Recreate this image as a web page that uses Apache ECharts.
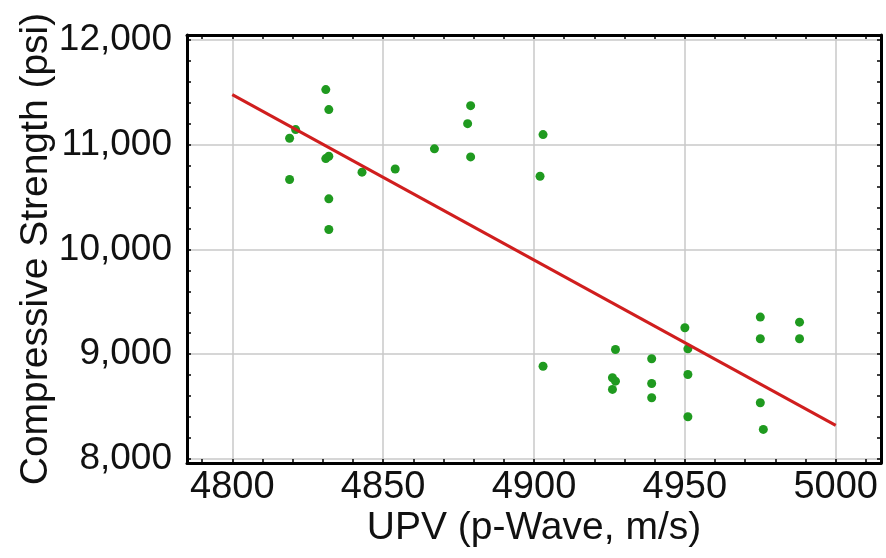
<!DOCTYPE html>
<html>
<head>
<meta charset="utf-8">
<script src="https://cdn.jsdelivr.net/npm/echarts@6/dist/echarts.min.js"></script>
<style>
  html, body { margin: 0; padding: 0; background: #fff; }
  #chart { width: 886px; height: 558px; }
</style>
</head>
<body>
<div id="chart"></div>
<script>
// measured data (UPV m/s, strength psi)
var upv = [4831, 4832, 4821, 4819, 4831, 4832, 4843, 4854, 4867, 4878, 4879, 4879, 4819, 4832, 4832,
           4903, 4902, 4903, 4927, 4926, 4927, 4926, 4939, 4939, 4939, 4950, 4951, 4951, 4951,
           4975, 4975, 4975, 4976, 4988, 4988]
var strength = [11528, 11337, 11146, 11063, 10869, 10891, 10739, 10770, 10962, 11203, 11375, 10885, 10669, 10484, 10191,
                11098, 10700, 8885, 9045, 8775, 8742, 8663, 8956, 8720, 8584, 9252, 9051, 8806, 8402,
                9354, 9147, 8536, 8281, 9306, 9147]

// fitted line end points
var fitX = [4800, 5000]
var fitY = [11480, 8320]

// axis ticks
var xLabels = [4800, 4850, 4900, 4950, 5000]
var xMinor = [4790, 4800, 4810, 4820, 4830, 4840, 4850, 4860, 4870, 4880, 4890, 4900,
              4910, 4920, 4930, 4940, 4950, 4960, 4970, 4980, 4990, 5000, 5010]
var yLabels = [8000, 9000, 10000, 11000, 12000]
var yMinor = [8000, 8200, 8400, 8600, 8800, 9000, 9200, 9400, 9600, 9800, 10000, 10200, 10400,
              10600, 10800, 11000, 11200, 11400, 11600, 11800, 12000]

var xMin = 4785, xMax = 5015
var yMin = 7960, yMax = 12050

var points = []
for (var i = 0; i < upv.length; i++) {
    points.push([upv[i], strength[i]])
}
var fit = []
for (var j = 0; j < fitX.length; j++) {
    fit.push([fitX[j], fitY[j]])
}

var font = 'Liberation Sans, Arial, sans-serif'
var frameLine = { show: true, onZero: false, lineStyle: { color: '#000', width: 3 } }
var tickStyle = function (vals) {
    return { show: true, inside: true, length: 4, customValues: vals, lineStyle: { color: '#000', width: 1.5 } }
}

var myChart = echarts.init(document.getElementById('chart'))

var option = {
    animation: false,
    backgroundColor: '#fff',
    grid: { left: 187, right: 5, top: 35, bottom: 95 },
    xAxis: [
        {
            type: 'value', position: 'bottom', min: xMin, max: xMax,
            name: 'UPV (p-Wave, m/s)', nameLocation: 'middle', nameGap: 46,
            nameMoveOverlap: false,
            nameTextStyle: { fontFamily: font, fontSize: 39, color: '#111' },
            axisLine: frameLine,
            axisTick: tickStyle(xMinor),
            axisLabel: {
                customValues: xLabels, fontFamily: font, fontSize: 38, color: '#111', margin: 6,
                formatter: function (v) { return String(v) }
            },
            splitLine: { show: false }
        },
        {
            type: 'value', position: 'top', min: xMin, max: xMax,
            axisLine: frameLine,
            axisTick: tickStyle(xMinor),
            axisLabel: { show: false },
            splitLine: { show: false }
        },
        {
            type: 'value', position: 'bottom', min: xMin, max: xMax,
            axisLine: { show: false },
            axisTick: { show: false, customValues: xLabels },
            axisLabel: { show: false },
            splitLine: { show: true, lineStyle: { color: '#c8c8c8', width: 1.5 } }
        }
    ],
    yAxis: [
        {
            type: 'value', position: 'left', min: yMin, max: yMax,
            name: 'Compressive Strength (psi)', nameLocation: 'middle', nameGap: 131,
            nameMoveOverlap: false,
            nameTextStyle: { fontFamily: font, fontSize: 39, color: '#111' },
            axisLine: frameLine,
            axisTick: tickStyle(yMinor),
            axisLabel: {
                customValues: yLabels, fontFamily: font, fontSize: 37, color: '#111', margin: 15,
                formatter: function (v) { return v.toLocaleString('en-US') }
            },
            splitLine: { show: false }
        },
        {
            type: 'value', position: 'right', min: yMin, max: yMax,
            axisLine: frameLine,
            axisTick: tickStyle(yMinor),
            axisLabel: { show: false },
            splitLine: { show: false }
        },
        {
            type: 'value', position: 'left', min: yMin, max: yMax,
            axisLine: { show: false },
            axisTick: { show: false, customValues: yLabels },
            axisLabel: { show: false },
            splitLine: { show: true, lineStyle: { color: '#c8c8c8', width: 1.5 } }
        }
    ],
    series: [
        {
            type: 'scatter',
            data: points,
            symbolSize: 9,
            itemStyle: { color: '#1f9a1f', opacity: 1 },
            z: 3
        },
        {
            type: 'line',
            data: fit,
            symbol: 'none',
            lineStyle: { color: '#d01e1e', width: 3 },
            z: 4
        }
    ]
}

myChart.setOption(option)
</script>
</body>
</html>
